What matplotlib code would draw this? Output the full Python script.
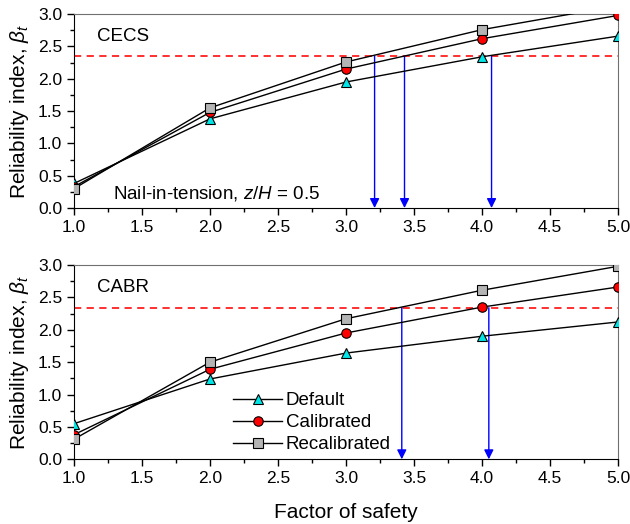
import matplotlib
matplotlib.use('Agg')
import matplotlib.pyplot as plt
from matplotlib.ticker import MultipleLocator

plt.rcParams['font.family'] = ['Liberation Sans', 'DejaVu Sans']
plt.rcParams['mathtext.fontset'] = 'custom'
plt.rcParams['mathtext.it'] = 'Liberation Sans:italic'
plt.rcParams['mathtext.rm'] = 'Liberation Sans'

# factor of safety
fs = [1, 2, 3, 4, 5]

# CECS
cecs_default = [0.38, 1.38, 1.95, 2.34, 2.66]
cecs_calibrated = [0.33, 1.48, 2.15, 2.62, 2.98]
cecs_recalibrated = [0.30, 1.55, 2.26, 2.76, 3.13]
cecs_target = 2.35
cecs_arrows = [3.21, 3.43, 4.07]

# CABR
cabr_default = [0.55, 1.24, 1.64, 1.90, 2.12]
cabr_calibrated = [0.38, 1.39, 1.95, 2.35, 2.66]
cabr_recalibrated = [0.31, 1.50, 2.17, 2.61, 2.98]
cabr_target = 2.34
cabr_arrows = [3.41, 4.05]

series_names = ['Default', 'Calibrated', 'Recalibrated']
markers = ['^', 'o', 's']
face_colors = ['#00e5e5', '#ff0000', '#b4b4b4']


def draw_panel(ax, series, target, arrows, code):
    for vals, name, m, fc in zip(series, series_names, markers, face_colors):
        ax.plot(fs, vals, color='black', lw=1, marker=m, markersize=6.8,
                markerfacecolor=fc, markeredgecolor='black', markeredgewidth=0.8,
                label=name, zorder=3)
    ax.axhline(target, color='#ff2020', lw=1.3, ls=(0, (4, 3)), zorder=2)
    for xa in arrows:
        ax.annotate('', xy=(xa, 0.0), xytext=(xa, target),
                    arrowprops=dict(arrowstyle='-|>', color='blue', lw=1,
                                    mutation_scale=14, shrinkA=0, shrinkB=0),
                    zorder=2)
    ax.set_xlim(1, 5)
    ax.set_ylim(0, 3)
    ax.xaxis.set_major_locator(MultipleLocator(0.5))
    ax.xaxis.set_minor_locator(MultipleLocator(0.25))
    ax.yaxis.set_major_locator(MultipleLocator(0.5))
    ax.yaxis.set_minor_locator(MultipleLocator(0.25))
    ax.tick_params(which='major', direction='out', length=5, width=1, labelsize=12.5)
    ax.tick_params(which='minor', direction='out', length=3, width=1)
    ax.set_ylabel(r'Reliability index, $\beta_t$', fontsize=15, labelpad=5)
    for s in ['top', 'right']:
        ax.spines[s].set_color('#707070')
    ax.text(0.043, 0.86, code, transform=ax.transAxes, fontsize=13.5)


fig = plt.figure(figsize=(6.3, 5.24), dpi=100)
ax1 = fig.add_axes([0.1175, 0.603, 0.8635, 0.370])
ax2 = fig.add_axes([0.1175, 0.1235, 0.8635, 0.3708])

draw_panel(ax1, [cecs_default, cecs_calibrated, cecs_recalibrated],
           cecs_target, cecs_arrows, 'CECS')
ax1.text(0.072, 0.05, 'Nail-in-tension, $z$/$H$ = 0.5', transform=ax1.transAxes,
         fontsize=13.5)

draw_panel(ax2, [cabr_default, cabr_calibrated, cabr_recalibrated],
           cabr_target, cabr_arrows, 'CABR')
ax2.legend(loc='lower left', bbox_to_anchor=(0.262, -0.055), frameon=False,
           fontsize=13.5, handlelength=2.6, labelspacing=0.25, handletextpad=0.2)
ax2.set_xlabel('Factor of safety', fontsize=15, labelpad=12)

fig.savefig('out.png', dpi=100)
